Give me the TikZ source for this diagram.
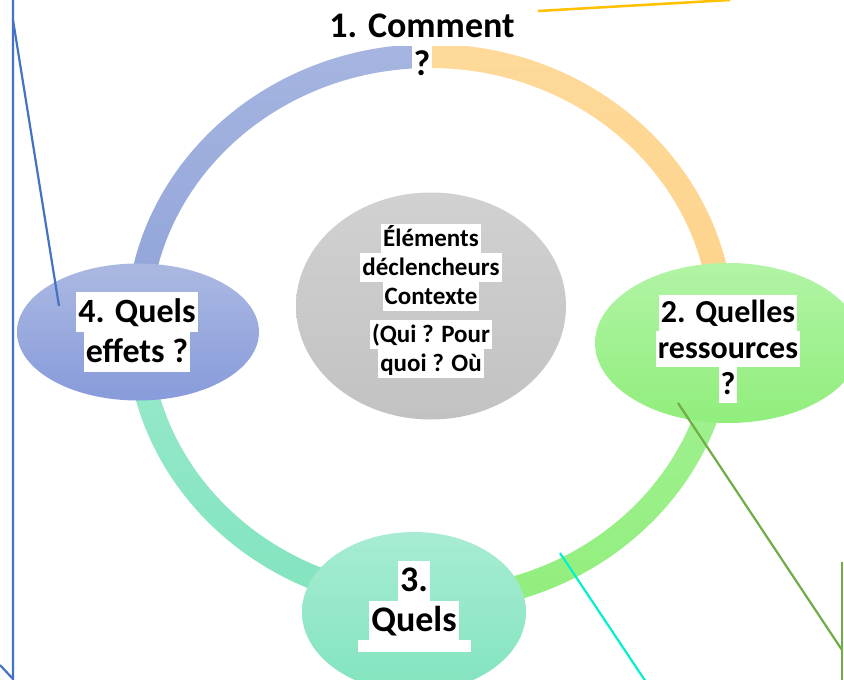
\documentclass[tikz,border=0pt]{standalone}
\usepackage{fontspec}
\setmainfont{Carlito}
\usetikzlibrary{calc,shapes.geometric}
\definecolor{blueA}{HTML}{A6B5E0}
\definecolor{blueB}{HTML}{8FA3D9}
\definecolor{orangeA}{HTML}{FED999}
\definecolor{orangeB}{HTML}{FDD38B}
\definecolor{greenA}{HTML}{A4F296}
\definecolor{greenB}{HTML}{91EE7C}
\definecolor{tealA}{HTML}{98E9CA}
\definecolor{tealB}{HTML}{82E4BE}
\definecolor{greyA}{HTML}{D1D1D1}
\definecolor{greyB}{HTML}{C2C2C2}
\definecolor{lineblue}{HTML}{4472C4}
\definecolor{lineorange}{HTML}{FFC000}
\definecolor{linegreen}{HTML}{70AD47}
\definecolor{linecyan}{HTML}{00F2CC}
\newcommand{\ringarc}[4]{% {start}{end}{top colour}{bottom colour}
  \shade[top color=#3,bottom color=#4]
    ($(ring)+(#1:304 and 284)$) arc[start angle=#1,end angle=#2,x radius=304,y radius=284]
    -- ($(ring)+(#2:280 and 260)$) arc[start angle=#2,end angle=#1,x radius=280,y radius=260] -- cycle;
}
\newcommand{\hilite}[1]{{\setlength{\fboxsep}{0pt}\colorbox{white}{\rule[-.24\baselineskip]{0pt}{\baselineskip}\hspace{2pt}#1\hspace{2pt}}}}
\tikzset{
  bubble/.style={ellipse,draw=none,inner sep=0pt},
  label/.style={align=center,inner sep=0pt,anchor=north},
  stray/.style={line width=2.2pt}
}

\begin{document}
\begin{tikzpicture}[x=1pt,y=-1pt]
  \fill[white] (0,0) rectangle (844,680);
  \clip (0,0) rectangle (844,680);
  \coordinate (ring) at (430,328);
  % Ring, one quarter per step
  \ringarc{180}{270}{blueA}{blueB}
  \ringarc{270}{360}{orangeA}{orangeB}
  \ringarc{0}{90}{greenA}{greenB}
  \ringarc{90}{180}{tealA}{tealB}
  % Centre
  \node[bubble,top color=greyA,bottom color=greyB,minimum width=270,minimum height=227] (ctx) at (431,306) {};
  % Steps
  \node[bubble,top color=blueA!95!white,bottom color=blueB!95!blue,minimum width=242,minimum height=137] (s4) at (138,332) {};
  \node[bubble,top color=greenA!85!white,bottom color=greenB,minimum width=266,minimum height=160] (s2) at (728,343) {};
  \node[bubble,top color=tealA!85!white,bottom color=tealB,minimum width=224,minimum height=160] (s3) at (414,612) {};
  % Labels
  \node[label,font=\bfseries\fontsize{36}{38}\selectfont] (t1) at (422,8) {\hilite{1. Comment}\\\hilite{?}};
  \node[label,font=\bfseries\fontsize{34}{40}\selectfont] (t4) at (137,292) {\hilite{4. Quels}\\\hilite{effets ?}};
  \node[label,font=\bfseries\fontsize{32}{36}\selectfont] (t2) at (728,295) {\hilite{2. Quelles}\\\hilite{ressources}\\\hilite{?}};
  \node[label,font=\bfseries\fontsize{36}{40}\selectfont] (t3) at (414,561) {\hilite{3.}\\\hilite{Quels}};
  \node[label,font=\bfseries\fontsize{25}{29}\selectfont] (tc) at (431,224) {\hilite{Éléments}\\\hilite{déclencheurs}\\\hilite{Contexte}\\[9pt]\hilite{(Qui ? Pour}\\\hilite{quoi ? Où}};
  \fill[white] ($(t3.south)+(-56,-1)$) rectangle ($(t3.south)+(57,11)$);
  % Stray lines
  \coordinate (bl1) at (0,665);
  \coordinate (bl2) at (13,679);
  \coordinate (bl3) at (13,0);
  \coordinate (bl4) at (13,20);
  \coordinate (bl5) at (59,306);
  \draw[stray,lineblue] (bl1) -- (bl2) -- (bl3);
  \draw[stray,lineblue] (bl4) -- (bl5);
  \coordinate (or1) at (538,11);
  \coordinate (or2) at (730,0);
  \draw[line width=2.5pt,lineorange] (or1) -- (or2);
  \coordinate (gr1) at (678,403);
  \coordinate (gr2) at (842,650);
  \coordinate (gr3) at (842,562);
  \coordinate (gr4) at (842,682);
  \draw[stray,linegreen] (gr1) -- (gr2);
  \draw[stray,linegreen] (gr3) -- (gr4);
  \coordinate (cy1) at (560,553);
  \coordinate (cy2) at (646,682);
  \draw[stray,linecyan] (cy1) -- (cy2);
\end{tikzpicture}
\end{document}
